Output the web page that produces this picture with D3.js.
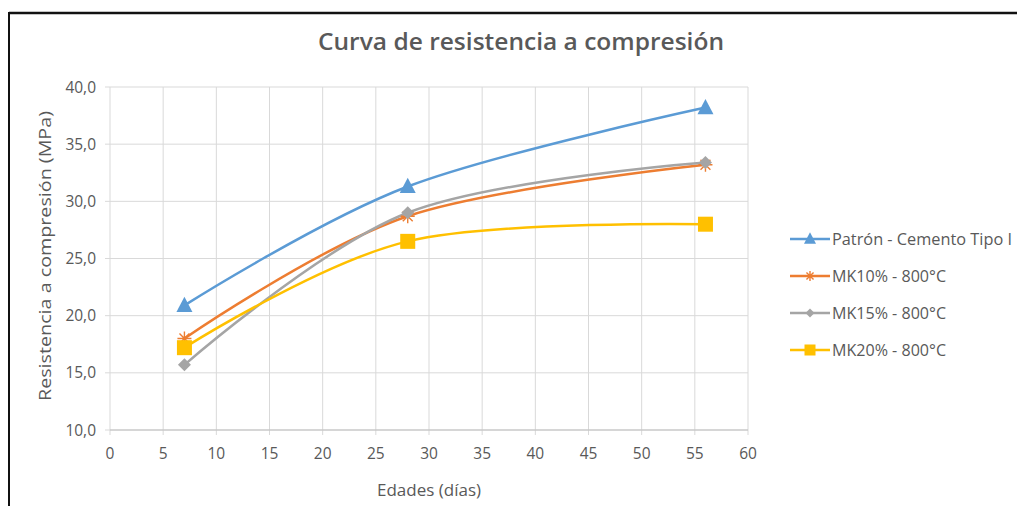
<!DOCTYPE html>
<html>
<head>
<meta charset="utf-8">
<script src="https://cdn.jsdelivr.net/npm/d3@7"></script>
<style>
  html, body { margin: 0; padding: 0; background: #fff; }
  svg { display: block; }
  text { font-family: "Open Sans", "Noto Sans", sans-serif; fill: #595959; }
</style>
</head>
<body>
<svg id="chart" width="1017" height="506"></svg>
<script>
// Compression strength (MPa) by curing age (days)
const ages = [7, 28, 56];
const patron = [20.9, 31.3, 38.2];
const mk10 = [18.0, 28.7, 33.2];
const mk15 = [15.7, 29.0, 33.4];
const mk20 = [17.2, 26.5, 28.0];
const seriesNames = ["Patrón - Cemento Tipo I", "MK10% - 800°C", "MK15% - 800°C", "MK20% - 800°C"];
const xTicks = [0, 5, 10, 15, 20, 25, 30, 35, 40, 45, 50, 55, 60];
const yTicks = [10, 15, 20, 25, 30, 35, 40];

const colors = ["#5B9BD5", "#ED7D31", "#A5A5A5", "#FFC000"];
const markers = ["triangle", "star", "diamond", "square"];
const seriesValues = [patron, mk10, mk15, mk20];

const svg = d3.select("#chart");

// chart frame (top and left edges)
svg.append("line").attr("x1", 9).attr("x2", 1017).attr("y1", 13).attr("y2", 13)
  .attr("stroke", "#111").attr("stroke-width", 2.5);
svg.append("line").attr("x1", 9).attr("x2", 9).attr("y1", 12).attr("y2", 506)
  .attr("stroke", "#111").attr("stroke-width", 2);

const x = d3.scaleLinear().domain([0, 60]).range([110, 748]);
const y = d3.scaleLinear().domain([10, 40]).range([430, 87]);

// title
svg.append("text").attr("x", 521).attr("y", 50).attr("text-anchor", "middle")
  .style("font-size", "24px").style("font-weight", "600")
  .attr("textLength", 406).attr("lengthAdjust", "spacingAndGlyphs")
  .text("Curva de resistencia a compresión");

// gridlines
const grid = svg.append("g");
grid.selectAll(".hg").data(yTicks).enter().append("line")
  .attr("x1", x(0) - 5).attr("x2", x(60))
  .attr("y1", d => y(d)).attr("y2", d => y(d))
  .attr("stroke", "#d9d9d9").attr("stroke-width", 1);
grid.selectAll(".vg").data(xTicks).enter().append("line")
  .attr("x1", d => x(d)).attr("x2", d => x(d))
  .attr("y1", y(40)).attr("y2", y(10) + 5)
  .attr("stroke", "#d9d9d9").attr("stroke-width", 1);
// x axis baseline
svg.append("line").attr("x1", x(0)).attr("x2", x(60)).attr("y1", y(10)).attr("y2", y(10))
  .attr("stroke", "#bfbfbf").attr("stroke-width", 1.2);

// tick labels
svg.selectAll(".yl").data(yTicks).enter().append("text")
  .attr("x", 96).attr("y", d => y(d) + 5.5).attr("text-anchor", "end")
  .style("font-size", "15.5px")
  .text(d => d3.format(".1f")(d).replace(".", ","));
svg.selectAll(".xl").data(xTicks).enter().append("text")
  .attr("x", d => x(d)).attr("y", 459).attr("text-anchor", "middle")
  .style("font-size", "15.5px")
  .text(d => d);

// axis titles
svg.append("text").attr("x", 429).attr("y", 496).attr("text-anchor", "middle")
  .style("font-size", "17px").text("Edades (días)");
svg.append("text").attr("transform", "translate(51,256) rotate(-90)")
  .attr("text-anchor", "middle").style("font-size", "17px")
  .attr("textLength", 290).attr("lengthAdjust", "spacingAndGlyphs")
  .text("Resistencia a compresión (MPa)");

// marker drawing
function drawMarker(g, type, color, cx, cy, s) {
  if (type === "triangle") {
    const h = s * 0.95;
    g.append("path").attr("d", `M${cx},${cy - h / 2 - 1}L${cx + s / 2},${cy + h / 2 - 1}L${cx - s / 2},${cy + h / 2 - 1}Z`)
      .attr("fill", color);
  } else if (type === "square") {
    g.append("rect").attr("x", cx - s / 2).attr("y", cy - s / 2).attr("width", s).attr("height", s)
      .attr("fill", color);
  } else if (type === "diamond") {
    const r = s / 2;
    g.append("path").attr("d", `M${cx},${cy - r}L${cx + r},${cy}L${cx},${cy + r}L${cx - r},${cy}Z`)
      .attr("fill", color);
  } else if (type === "star") {
    const r = s / 2;
    const p = [];
    for (let i = 0; i < 4; i++) {
      const a = i * Math.PI / 4;
      p.push(`M${cx - r * Math.cos(a)},${cy - r * Math.sin(a)}L${cx + r * Math.cos(a)},${cy + r * Math.sin(a)}`);
    }
    g.append("path").attr("d", p.join("")).attr("stroke", color).attr("stroke-width", 1.4).attr("fill", "none");
  }
}

const markerSizes = { triangle: 16, square: 15, diamond: 13, star: 14 };

const line = d3.line().x(d => x(d[0])).y(d => y(d[1])).curve(d3.curveCardinal.tension(0));

// series lines
seriesValues.forEach((vals, i) => {
  const pts = ages.map((a, j) => [a, vals[j]]);
  svg.append("path").datum(pts).attr("d", line)
    .attr("fill", "none").attr("stroke", colors[i]).attr("stroke-width", 2.5)
    .attr("stroke-linecap", "round");
});
// markers on top
seriesValues.forEach((vals, i) => {
  const g = svg.append("g");
  ages.forEach((a, j) => drawMarker(g, markers[i], colors[i], x(a), y(vals[j]), markerSizes[markers[i]]));
});

// legend
const legendY = [239, 276, 313, 350];
seriesNames.forEach((name, i) => {
  const g = svg.append("g");
  g.append("line").attr("x1", 790).attr("x2", 830).attr("y1", legendY[i]).attr("y2", legendY[i])
    .attr("stroke", colors[i]).attr("stroke-width", 2.5);
  drawMarker(g, markers[i], colors[i], 810, legendY[i], markerSizes[markers[i]] - 4);
  g.append("text").attr("x", 832).attr("y", legendY[i] + 5.5).style("font-size", "16px")
    .attr("textLength", i === 0 ? 180 : 114).attr("lengthAdjust", "spacingAndGlyphs")
    .text(name);
});
</script>
</body>
</html>
